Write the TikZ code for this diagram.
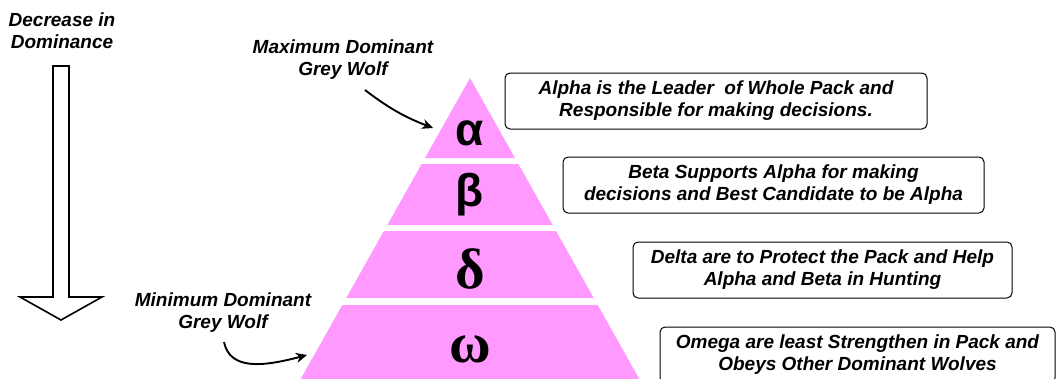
\documentclass[tikz,border=0pt]{standalone}
\usepackage{fontspec}
\setmainfont{Liberation Sans}
\newfontfamily\griegaserif{Liberation Serif}
\usetikzlibrary{arrows.meta}
\definecolor{rosa}{HTML}{FF99FF}
\tikzset{
  etiqueta/.style={align=center, inner sep=0pt, font=\fontsize{19}{22}\selectfont\bfseries\itshape},
  caja/.style={etiqueta, draw, rounded corners=5pt, line width=1pt, minimum height=56pt},
  flecha/.style={-{Stealth[length=11pt,width=10pt]}, line width=1.9pt},
  letrasans/.style={font=\fontsize{46}{46}\selectfont\bfseries},
  letraserif/.style={font=\fontsize{57}{57}\selectfont\griegaserif\bfseries}
}
\begin{document}
\begin{tikzpicture}[x=1pt,y=-1pt]
        \useasboundingbox (0,0) rectangle (1058,378);

        % Flecha hueca de la izquierda
        \draw[line width=1.6pt] (53,66) -- (69,66) -- (69,297) -- (102,297) -- (61,320) -- (20,297) -- (53,297) -- cycle;
        \node[etiqueta] (decr) at (62,31) {Decrease in\\Dominance};

        % Capas de la piramide
        \foreach \ya/\yb in {78/158,164/225,231/298,305/380}{
            \fill[rosa] ({470-(\ya-78)*0.5625},\ya) -- ({470+(\ya-78)*0.5625},\ya) -- ({470+(\yb-78)*0.5625},\yb) -- ({470-(\yb-78)*0.5625},\yb) -- cycle;
        }

        % Letras griegas
        \node[letrasans] (alfa) at (470,133) {α};
        \node[letrasans] (beta) at (470,195) {β};
        \node[letraserif] (delta) at (470,269) {δ};
        \node[letraserif] (omega) at (470,349) {ω};

        % Cajas de texto
        \node[caja, minimum width=422pt] (txtalfa) at (716,101) {Alpha is the Leader\ \ of Whole Pack and\\Responsible for making decisions.};
        \node[caja, minimum width=421pt] (txtbeta) at (773.5,185) {Beta Supports Alpha for making\\decisions and Best Candidate to be Alpha};
        \node[caja, minimum width=379pt] (txtdelta) at (822.5,270) {Delta are to Protect the Pack and Help\\Alpha and Beta in Hunting};
        \node[caja, minimum width=395pt] (txtomega) at (857.5,355) {Omega are least Strengthen in Pack and\\Obeys Other Dominant Wolves};

        % Etiquetas y flechas
        \node[etiqueta] (maxlbl) at (343,60) {Maximum Dominant\\Grey Wolf};
        \node[etiqueta] (minlbl) at (223,313) {Minimum Dominant\\Grey Wolf};
        \coordinate (pmax) at (433,128);
        \coordinate (pmin) at (307,355);
        \draw[flecha] ([xshift=22pt,yshift=-10pt]maxlbl.south) to[bend right=8] (pmax);
        \draw[flecha] ([xshift=1pt,yshift=-9pt]minlbl.south) .. controls +(6,28) and +(-45,12) .. (pmin);
    \end{tikzpicture}
\end{document}
